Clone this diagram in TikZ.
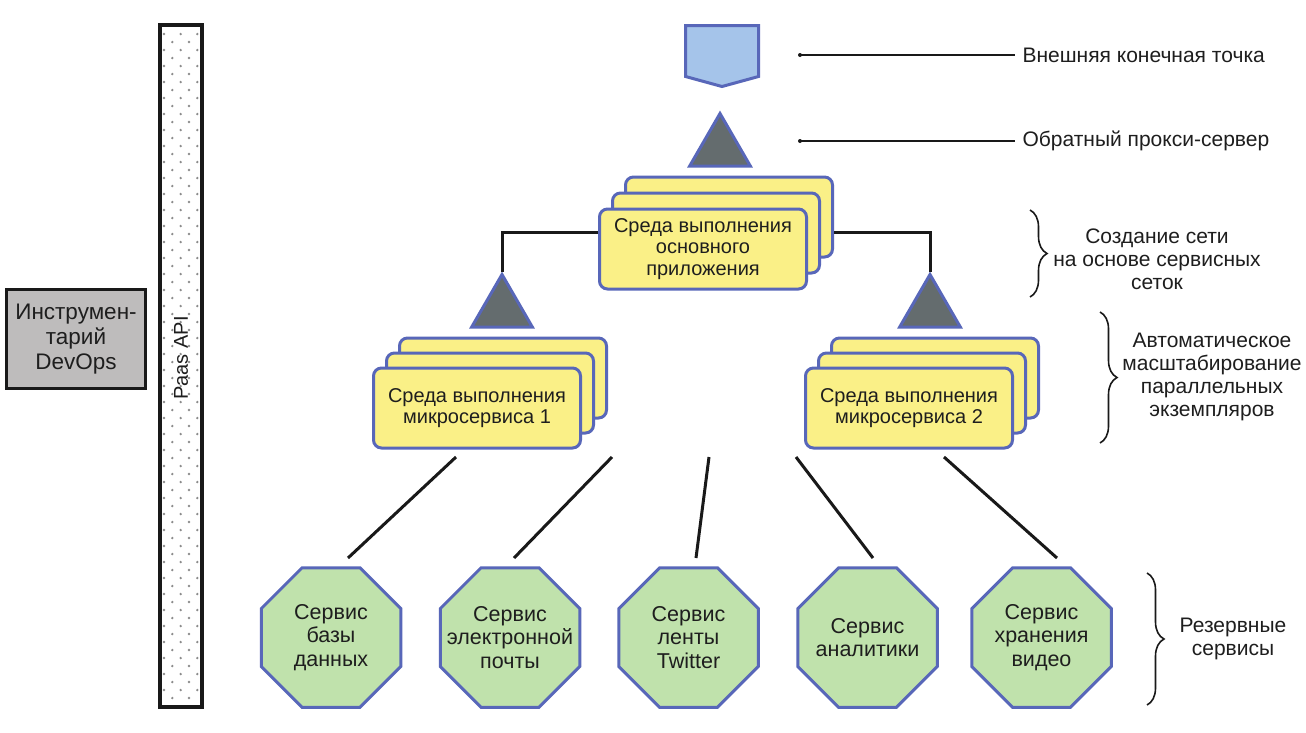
\documentclass[tikz,border=0pt]{standalone}
\usepackage{fontspec}
\setmainfont{Liberation Sans}
\usetikzlibrary{shapes.geometric,decorations.pathreplacing}
\definecolor{bord}{RGB}{88,103,185}
\definecolor{yfill}{RGB}{250,240,135}
\definecolor{gfill}{RGB}{192,226,172}
\definecolor{bfill}{RGB}{165,196,234}
\definecolor{tfill}{RGB}{100,108,110}
\definecolor{dfill}{RGB}{190,188,188}
\definecolor{dotc}{RGB}{140,140,140}
\definecolor{txt}{RGB}{30,30,30}
\definecolor{lin}{RGB}{25,25,25}
\begin{document}
\begin{tikzpicture}[x=1pt,y=-1pt,
  ybox/.style={draw=bord, line width=3pt, fill=yfill, rounded corners=8pt, minimum width=207pt, minimum height=80pt, align=center, text=txt, inner sep=0pt, font=\fontsize{20}{21.7}\selectfont},
  tri/.style={regular polygon, regular polygon sides=3, draw=bord, line width=3pt, fill=tfill, minimum size=70pt, inner sep=0pt},
  oct/.style={regular polygon, regular polygon sides=8, draw=bord, line width=3pt, fill=gfill, minimum size=151pt, inner sep=0pt},
  octtxt/.style={align=center, text=txt, font=\fontsize{21.5}{23.5}\selectfont},
  conn/.style={line width=3pt, draw=lin},
  lbl/.style={line width=2pt, draw=lin},
  lab/.style={align=center, text=txt, font=\fontsize{21}{23}\selectfont},
  brc/.style={decorate, decoration={brace, amplitude=17pt, aspect=0.5}, line width=1.6pt, draw=lin},
  font=\fontsize{20}{22.5}\selectfont]
\useasboundingbox (0,0) rectangle (1306,732);
\fill[white] (0,0) rectangle (1306,732);

% Paas API bar
\fill[white] (159.5,25) rectangle (201.5,706.5);
\foreach \i in {0,...,83}{
  \pgfmathsetmacro{\yy}{34+8*\i}
  \ifodd\i
    \foreach \xx in {172.3,189}{\fill[dotc] (\xx,\yy) circle (1.3pt);}
  \else
    \foreach \xx in {164,180.7,197.3}{\fill[dotc] (\xx,\yy) circle (1.3pt);}
  \fi
}
\draw[line width=4pt, draw=lin] (159.5,25) rectangle (201.5,706.5);
\node[rotate=90, text=txt] (paas) at (181,358) {Paas API};

% DevOps box
\node[draw=lin, line width=3pt, fill=dfill, minimum width=139pt, minimum height=99pt, align=center, text=txt, font=\fontsize{22.5}{25}\selectfont] (devops) at (76,339) {Инструмен-\\тарий\\DevOps};

% external endpoint (pentagon)
\draw[draw=bord, line width=3pt, fill=bfill] (685.5,25.5) -- (758.5,25.5) -- (758.5,76.5) -- (722,86.5) -- (685.5,76.5) -- cycle;
\coordinate (ext) at (722,55);

% triangles
\node[tri] (tri0) at (720,148.5) {};
\node[tri] (tril) at (502,309.5) {};
\node[tri] (trir) at (930,309.5) {};

% main stack
\node[ybox] (mainc) at (729,217) {};
\node[ybox] (mainb) at (716,233) {};
\node[ybox] (main) at (703,249) {Среда выполнения\\основного\\приложения};

% micro 1 stack
\node[ybox] (m1c) at (503,378) {};
\node[ybox] (m1b) at (490,393) {};
\node[ybox] (m1) at (477,408) {Среда выполнения\\микросервиса 1};

% micro 2 stack
\node[ybox] (m2c) at (935,378) {};
\node[ybox] (m2b) at (922,393) {};
\node[ybox] (m2) at (909,408) {Среда выполнения\\микросервиса 2};

% connectors main -> triangles
\draw[conn] ([yshift=17pt]main.west) -| (tril.corner 1);
\draw[conn] ([yshift=-15pt]mainc.east) -| (trir.corner 1);

% octagons
\node[oct] (s1) at (331,637.5) {};
\node[oct] (s2) at (510,637.5) {};
\node[oct] (s3) at (688.5,637.5) {};
\node[oct] (s4) at (867.5,637.5) {};
\node[oct] (s5) at (1041.5,637.5) {};
\node[octtxt] (s1t) at (s1) {Сервис\\базы\\данных};
\node[octtxt] (s2t) at (s2) {Сервис\\электронной\\почты};
\node[octtxt] (s3t) at (s3) {Сервис\\ленты\\Twitter};
\node[octtxt] (s4t) at (s4) {Сервис\\аналитики};
\node[octtxt] (s5t) at (s5) {Сервис\\хранения\\видео};

% lines to services
\coordinate (c1a) at (456,457); \coordinate (c1b) at (348,558);
\coordinate (c2a) at (612,457); \coordinate (c2b) at (514,558);
\coordinate (c3a) at (709,457); \coordinate (c3b) at (696,558);
\coordinate (c4a) at (796,457); \coordinate (c4b) at (873,558);
\coordinate (c5a) at (944,457); \coordinate (c5b) at (1057,558);
\draw[conn] (c1a) -- (c1b);
\draw[conn] (c2a) -- (c2b);
\draw[conn] (c3a) -- (c3b);
\draw[conn] (c4a) -- (c4b);
\draw[conn] (c5a) -- (c5b);

% top labels
\coordinate (l1s) at (800,55); \coordinate (l1e) at (1015,55);
\coordinate (l2s) at (800,141); \coordinate (l2e) at (1015,141);
\fill[lin] (l1s) circle (2pt);
\fill[lin] (l2s) circle (2pt);
\draw[lbl] (l1s) -- (l1e);
\draw[lbl] (l2s) -- (l2e);
\node[lab, anchor=west] (t1) at (1019,55) {Внешняя конечная точка};
\node[lab, anchor=west] (t2) at (1019,141) {Обратный прокси-сервер};

% braces
\coordinate (b1s) at (1030,210); \coordinate (b1e) at (1030,297);
\coordinate (b2s) at (1100,312); \coordinate (b2e) at (1100,443);
\coordinate (b3s) at (1147,573); \coordinate (b3e) at (1147,705);
\draw[brc] (b1s) -- (b1e);
\draw[brc] (b2s) -- (b2e);
\draw[brc] (b3s) -- (b3e);
\node[lab] (t3) at (1157,259) {Создание сети\\на основе сервисных\\сеток};
\node[lab] (t4) at (1212,377) {Автоматическое\\масштабирование\\параллельных\\экземпляров};
\node[lab] (t5) at (1233,639) {Резервные\\сервисы};
\end{tikzpicture}
\end{document}
